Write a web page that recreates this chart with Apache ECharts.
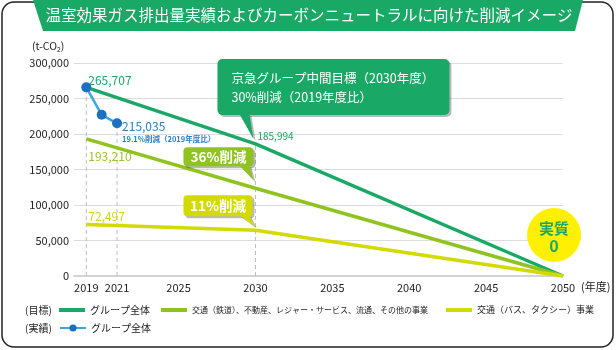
<!DOCTYPE html>
<html><head><meta charset="utf-8">
<script src="https://cdn.jsdelivr.net/npm/echarts@6/dist/echarts.min.js"></script>
<style>html,body{margin:0;padding:0;background:#fff}#c{width:616px;height:350px}</style>
</head><body><div id="c"></div>
<script>
// ---- data ----
const titleText = '温室効果ガス排出量実績およびカーボンニュートラルに向けた削減イメージ';
const yUnit = '(t-CO₂)';
const xUnit = '(年度)';
const xTickLabels = [2019, 2021, 2025, 2030, 2035, 2040, 2045, 2050];
const yTicks = [0, 50000, 100000, 150000, 200000, 250000, 300000];
const targetYears = [2019, 2030, 2050];
const targetGroup = [265707, 185994, 0];
const targetRail = [193210, 123654, 0];
const targetBus = [72497, 64522, 0];
const actualYears = [2019, 2020, 2021];
const actualGroup = [265707, 227000, 215035];
const guideYears = [2019, 2021, 2030];
const guideValues = [265707, 215035, 185994];
const actualNote = '19.1%削減（2019年度比）';
const seriesNames = ['グループ全体', '交通（鉄道）、不動産、レジャー・サービス、流通、その他の事業', '交通（バス、タクシー）事業', 'グループ全体'];
const legendGroupLabels = ['(目標)', '(実績)'];
const calloutGreen = ['京急グループ中間目標（2030年度）', '30%削減（2019年度比）'];
const calloutRail = '36%削減';
const calloutBus = '11%削減';
const netZeroText = ['実質', '0'];

// ---- style ----
const FONT = '"Noto Sans CJK JP", "Noto Sans", sans-serif';
const C = {green:'#1aa866', lime:'#8fc31f', yellow:'#d3da00', blue:'#3ba6df', blueDot:'#1d6fc0',
  limeText:'#9cc52a', yellowText:'#cfd61a', blueText:'#2a80c8', circle:'#fff000'};
const fmt = v => v.toLocaleString('en-US');
const ids = ['tg', 'tr', 'tb', 'ag'];
const nameMap = {}; ids.forEach((k, i) => nameMap[k] = seriesNames[i]);

function withLabels(xs, ys, cfg) {
  return xs.map((x, i) => {
    const d = {value: [x, ys[i]]};
    if (cfg[i]) d.label = Object.assign({show: true, position: 'right', fontFamily: FONT,
      formatter: p => fmt(p.value[1])}, cfg[i]);
    return d;
  });
}

const chart = echarts.init(document.getElementById('c'), null, {renderer: 'canvas'});

const guideSeries = guideYears.map((yr, i) => ({
  type: 'line', data: [[yr, 0], [yr, guideValues[i]]], symbol: 'none', silent: true, z: 1,
  lineStyle: {color: '#bdbdbd', width: 1, type: [4, 3]}
}));

const targetBase = {type: 'line', symbol: 'circle', symbolSize: 0, silent: true, z: 3, emphasis: {disabled: true}};

const series = guideSeries.concat([
  Object.assign({}, targetBase, {
    name: 'tg', lineStyle: {color: C.green, width: 3.5}, itemStyle: {color: C.green},
    data: withLabels(targetYears, targetGroup, {
      0: {color: C.green, fontSize: 12, distance: 2, offset: [0, -7]},
      1: {color: C.green, fontSize: 10, distance: 2, offset: [0, -8]}
    })
  }),
  Object.assign({}, targetBase, {
    name: 'tr', lineStyle: {color: C.lime, width: 3.5}, itemStyle: {color: C.lime},
    data: withLabels(targetYears, targetRail, {
      0: {color: C.limeText, fontSize: 12, distance: 2, offset: [0, 18]}
    })
  }),
  Object.assign({}, targetBase, {
    name: 'tb', lineStyle: {color: C.yellow, width: 3.5}, itemStyle: {color: C.yellow},
    data: withLabels(targetYears, targetBus, {
      0: {color: C.yellowText, fontSize: 12, distance: 2, offset: [0, -8]}
    })
  }),
  {
    type: 'line', name: 'ag', symbol: 'circle', symbolSize: 10, silent: true, z: 5,
    emphasis: {disabled: true},
    lineStyle: {color: C.blue, width: 2.5}, itemStyle: {color: C.blueDot},
    data: withLabels(actualYears, actualGroup, {
      2: {distance: 0, offset: [0, 9],
        formatter: p => '{a|' + fmt(p.value[1]) + '}\n{b|' + actualNote + '}',
        rich: {
          a: {color: C.blueText, fontSize: 12, lineHeight: 14, fontFamily: FONT},
          b: {color: C.blueText, fontSize: 7.5, fontWeight: 'bold', lineHeight: 11, fontFamily: FONT}
        }}
    })
  }
]);

function legend(left, top, id, fontSize, icon, ih) {
  const l = {left: left, top: top, data: [id], selectedMode: false, itemWidth: 26, itemHeight: ih,
    formatter: n => nameMap[n], textStyle: {fontSize: fontSize, color: '#222', fontFamily: FONT, lineHeight: 14},
    padding: 0};
  if (icon) l.icon = icon;
  return l;
}

chart.setOption({
  animation: false,
  grid: {left: 74, right: 53, top: 63, bottom: 74},
  xAxis: {
    type: 'value', min: 2018.2, max: 2050,
    axisLine: {show: true, lineStyle: {color: '#d4d4d4', width: 2}},
    axisTick: {show: false}, splitLine: {show: false},
    axisLabel: {customValues: xTickLabels, formatter: v => String(v), margin: 6,
      color: '#222', fontSize: 11, fontFamily: FONT},
    name: xUnit, nameLocation: 'end', nameGap: 11,
    nameTextStyle: {color: '#222', fontSize: 11, fontFamily: FONT, verticalAlign: 'top', padding: [5, 0, 0, 0]}
  },
  yAxis: {
    type: 'value', min: yTicks[0], max: yTicks[yTicks.length - 1], interval: yTicks[1] - yTicks[0],
    axisLine: {show: false}, axisTick: {show: false},
    splitLine: {lineStyle: {color: '#dcdcdc', width: 1}},
    axisLabel: {formatter: v => fmt(v), margin: 5, color: '#222', fontSize: 11, fontFamily: FONT}
  },
  legend: [
    legend(59, 303, 'tg', 10, 'rect', 4),
    legend(161, 303, 'tr', 8, 'rect', 4),
    legend(446, 303, 'tb', 9, 'rect', 4),
    legend(59, 321, 'ag', 10, null, 9)
  ],
  series: series
});

// ---- annotations anchored to data through the axes ----
const px = (x, y) => chart.convertToPixel({gridIndex: 0}, [x, y]);
const g = [];
g.push({type: 'rect', shape: {x: 2, y: 2, width: 611, height: 345, r: 12},
  style: {fill: 'none', stroke: '#222', lineWidth: 1.5}, z: 0, silent: true});
g.push({type: 'polygon', shape: {points: [[33, 0], [583, 0], [575, 31], [43, 31]]},
  style: {fill: C.green}, z: 1, silent: true});
g.push({type: 'text', x: 309, y: 15, z: 2, silent: true,
  style: {text: titleText, fill: '#fff', font: '15.5px ' + FONT, align: 'center', verticalAlign: 'middle',
    textAlign: 'center', textVerticalAlign: 'middle'}});
g.push({type: 'text', x: 32, y: 46, silent: true,
  style: {text: yUnit, fill: '#222', font: '10.5px ' + FONT, verticalAlign: 'middle', textVerticalAlign: 'middle'}});
g.push({type: 'text', x: 25, y: 310, silent: true,
  style: {text: legendGroupLabels[0], fill: '#222', font: '10px ' + FONT, verticalAlign: 'middle', textVerticalAlign: 'middle'}});
g.push({type: 'text', x: 25, y: 328, silent: true,
  style: {text: legendGroupLabels[1], fill: '#222', font: '10px ' + FONT, verticalAlign: 'middle', textVerticalAlign: 'middle'}});

function bubble(x0, y0, x1, y1, r, b0, b1, tx, ty, color) {
  const parts = [];
  [[2, 2, 'rgba(0,0,0,0.28)'], [0, 0, color]].forEach(([dx, dy, fill]) => {
    parts.push({type: 'polygon', z: 6, silent: true,
      shape: {points: [[b0 + dx, y1 - 1 + dy], [b1 + dx, y1 - 1 + dy], [tx + dx, ty + dy]]}, style: {fill: fill}});
    parts.push({type: 'rect', z: 6, silent: true,
      shape: {x: x0 + dx, y: y0 + dy, width: x1 - x0, height: y1 - y0, r: r}, style: {fill: fill}});
  });
  return parts;
}

// green callout
let T = px(targetYears[1], targetGroup[1]); let tx = T[0] - 2, ty = T[1] - 5;
bubble(tx - 36, ty - 80, tx + 196, ty - 24, 5, tx - 14, tx - 4, tx, ty, C.green).forEach(e => g.push(e));
calloutGreen.forEach((s, i) => g.push({type: 'text', x: tx - 22, y: ty - 61 + i * 19, z: 7, silent: true,
  style: {text: s, fill: '#fff', font: '12.5px ' + FONT, verticalAlign: 'middle', textVerticalAlign: 'middle'}}));

// rail callout
T = px(targetYears[1], targetRail[1]); tx = T[0] - 2; ty = T[1] - 8;
bubble(tx - 70, ty - 33, tx, ty - 14, 4, tx - 14, tx - 4, tx, ty, C.lime).forEach(e => g.push(e));
g.push({type: 'text', x: tx - 35, y: ty - 23.5, z: 7, silent: true,
  style: {text: calloutRail, fill: '#fff', font: 'bold 13.5px ' + FONT, align: 'center', verticalAlign: 'middle',
    textAlign: 'center', textVerticalAlign: 'middle'}});

// bus callout
T = px(targetYears[1], targetBus[1]); tx = T[0] - 1; ty = T[1] - 4;
bubble(tx - 71, ty - 31, tx - 2, ty - 10, 4, tx - 15, tx - 5, tx, ty, C.yellow).forEach(e => g.push(e));
g.push({type: 'text', x: tx - 36.5, y: ty - 20.5, z: 7, silent: true,
  style: {text: calloutBus, fill: '#fff', font: 'bold 13.5px ' + FONT, align: 'center', verticalAlign: 'middle',
    textAlign: 'center', textVerticalAlign: 'middle'}});

// net zero circle
T = px(targetYears[2], targetGroup[2]);
const cx = T[0] - 9, cy = T[1] - 41;
g.push({type: 'circle', shape: {cx: cx, cy: cy, r: 27}, style: {fill: C.circle}, z: 2, silent: true});
g.push({type: 'text', x: cx, y: cy - 7, z: 3, silent: true,
  style: {text: netZeroText[0], fill: C.green, font: 'bold 15px ' + FONT, align: 'center', verticalAlign: 'middle',
    textAlign: 'center', textVerticalAlign: 'middle'}});
g.push({type: 'text', x: cx, y: cy + 11, z: 3, silent: true,
  style: {text: netZeroText[1], fill: C.green, font: 'bold 16px ' + FONT, align: 'center', verticalAlign: 'middle',
    textAlign: 'center', textVerticalAlign: 'middle'}});

chart.setOption({graphic: g});
</script></body></html>
